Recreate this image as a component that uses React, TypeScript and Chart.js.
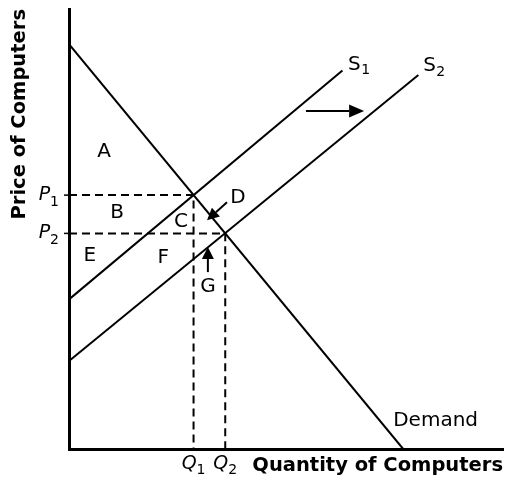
import React, { useEffect, useRef } from "react";
import { Chart, registerables } from "chart.js";

Chart.register(...registerables);

// Curves (data units: quantity 0-100, price 0-100)
const demandX = [0, 77];
const demandY = [92, 0];
const supply1X = [0, 63];
const supply1Y = [34, 86];
const supply2X = [0, 80.5];
const supply2Y = [20, 85];

// Equilibria: [before, after]
const quantities = [28.7, 36];
const prices = [57.7, 49];
const quantityLabels = ["Q", "Q"];
const priceLabels = ["P", "P"];
const subscripts = ["1", "2"];

// Area labels
const regionLabels = ["A", "B", "C", "D", "E", "F", "G"];
const regionX = [8.1, 11.1, 25.8, 38.9, 4.8, 21.7, 32.0];
const regionY = [67.5, 53.6, 51.6, 57.0, 43.9, 43.4, 36.8];

// Curve labels
const curveLabels = ["S", "S", "Demand"];
const curveSubs = ["1", "2", ""];
const curveLabelX = [64.3, 81.6, 74.7];
const curveLabelY = [87.4, 87.0, 6.4];

// Arrows: [fromX, fromY, toX, toY]
const shiftArrow = [54.6, 76.8, 68.0, 76.8];
const dArrow = [36.4, 56.1, 31.8, 52.0];
const gArrow = [32.0, 40.2, 32.0, 45.9];

const xTitle = "Quantity of Computers";
const yTitle = "Price of Computers";

const FONT = "DejaVu Sans";
const INK = "#000";

function pts(xs: number[], ys: number[]) {
  return xs.map((x, i) => ({ x, y: ys[i] }));
}

const annotationPlugin = {
  id: "econAnnotations",
  afterDatasetsDraw(chart: any) {
    const { ctx, scales, chartArea } = chart;
    const xs = scales.x;
    const ys = scales.y;
    const px = (v: number) => xs.getPixelForValue(v);
    const py = (v: number) => ys.getPixelForValue(v);
    ctx.save();
    ctx.fillStyle = INK;
    ctx.strokeStyle = INK;

    // region letters
    ctx.font = `20px "${FONT}"`;
    ctx.textAlign = "center";
    ctx.textBaseline = "middle";
    regionLabels.forEach((l, i) => {
      ctx.fillText(l, px(regionX[i]), py(regionY[i]));
    });

    // curve labels
    curveLabels.forEach((l, i) => {
      const x = px(curveLabelX[i]);
      const y = py(curveLabelY[i]);
      ctx.font = `20px "${FONT}"`;
      ctx.textAlign = "left";
      ctx.textBaseline = "middle";
      ctx.fillText(l, x, y);
      if (curveSubs[i]) {
        const w = ctx.measureText(l).width;
        ctx.font = `14px "${FONT}"`;
        ctx.fillText(curveSubs[i], x + w + 0.5, y + 6);
      }
    });

    // price labels (left of axis) and small ticks
    prices.forEach((p, i) => {
      const y = py(p);
      ctx.font = `14px "${FONT}"`;
      const sw = ctx.measureText(subscripts[i]).width;
      ctx.font = `italic 19px "${FONT}"`;
      const pw = ctx.measureText(priceLabels[i]).width;
      const endX = chartArea.left - 10;
      const startX = endX - sw - pw;
      ctx.textAlign = "left";
      ctx.textBaseline = "middle";
      ctx.fillText(priceLabels[i], startX, y);
      ctx.font = `14px "${FONT}"`;
      ctx.fillText(subscripts[i], startX + pw, y + 7);
      ctx.lineWidth = 1.5;
      ctx.beginPath();
      ctx.moveTo(chartArea.left - 5, y);
      ctx.lineTo(chartArea.left, y);
      ctx.stroke();
    });

    // quantity labels (below axis)
    quantities.forEach((q, i) => {
      const x = px(q);
      const y = chartArea.bottom + 15;
      ctx.font = `14px "${FONT}"`;
      const sw = ctx.measureText(subscripts[i]).width;
      ctx.font = `italic 19px "${FONT}"`;
      const qw = ctx.measureText(quantityLabels[i]).width;
      const startX = x - (qw + sw) / 2;
      ctx.textAlign = "left";
      ctx.textBaseline = "middle";
      ctx.fillText(quantityLabels[i], startX, y);
      ctx.font = `14px "${FONT}"`;
      ctx.fillText(subscripts[i], startX + qw, y + 6);
    });

    // arrows
    const drawArrow = (a: number[], head: number, half: number) => {
      const x1 = px(a[0]), y1 = py(a[1]), x2 = px(a[2]), y2 = py(a[3]);
      const ang = Math.atan2(y2 - y1, x2 - x1);
      const bx = x2 - head * Math.cos(ang);
      const by = y2 - head * Math.sin(ang);
      ctx.lineWidth = 2;
      ctx.beginPath();
      ctx.moveTo(x1, y1);
      ctx.lineTo(bx, by);
      ctx.stroke();
      ctx.beginPath();
      ctx.moveTo(x2, y2);
      ctx.lineTo(bx + half * Math.sin(ang), by - half * Math.cos(ang));
      ctx.lineTo(bx - half * Math.sin(ang), by + half * Math.cos(ang));
      ctx.closePath();
      ctx.fill();
    };
    drawArrow(shiftArrow, 15, 6.5);
    drawArrow(dArrow, 12, 6);
    drawArrow(gArrow, 12, 6);

    ctx.restore();
  },
};

export default function App() {
  const canvasRef = useRef<HTMLCanvasElement | null>(null);

  useEffect(() => {
    const canvas = canvasRef.current;
    if (!canvas) return;
    const solid = { pointRadius: 0, borderColor: INK, borderWidth: 2, showLine: true, fill: false };
    const dashed = { ...solid, borderDash: [8, 5] };
    const chart = new Chart(canvas, {
      type: "scatter",
      data: {
        datasets: [
          { label: "Demand", data: pts(demandX, demandY), ...solid },
          { label: "S1", data: pts(supply1X, supply1Y), ...solid },
          { label: "S2", data: pts(supply2X, supply2Y), ...solid },
          {
            label: "E1",
            data: pts([0, quantities[0], quantities[0]], [prices[0], prices[0], 0]),
            ...dashed,
          },
          {
            label: "E2",
            data: pts([0, quantities[1], quantities[1]], [prices[1], prices[1], 0]),
            ...dashed,
          },
        ],
      },
      options: {
        responsive: false,
        animation: false,
        devicePixelRatio: 1,
        layout: { padding: { top: 9, right: 2, left: 0, bottom: 0 } },
        plugins: { legend: { display: false }, tooltip: { enabled: false } },
        scales: {
          x: {
            type: "linear",
            min: 0,
            max: 100,
            grid: { display: false },
            ticks: { display: false },
            border: { display: true, width: 3, color: INK },
            title: {
              display: true,
              text: xTitle,
              align: "end",
              color: INK,
              font: { family: FONT, size: 19.5, weight: "bold" },
              padding: { top: 0, bottom: 8 },
            },
            afterFit: (s: any) => {
              s.height = 37;
            },
          },
          y: {
            type: "linear",
            min: 0,
            max: 100,
            grid: { display: false },
            ticks: { display: false },
            border: { display: true, width: 3, color: INK },
            title: {
              display: true,
              text: yTitle,
              align: "end",
              color: INK,
              font: { family: FONT, size: 19.5, weight: "bold" },
              padding: { top: 8, bottom: 0 },
            },
            afterFit: (s: any) => {
              s.width = 69;
            },
          },
        },
      } as any,
      plugins: [annotationPlugin],
    });
    return () => chart.destroy();
  }, []);

  return (
    <div style={{ position: "absolute", left: 0, top: 0, width: 505, height: 486, background: "#fff" }}>
      <canvas ref={canvasRef} width={505} height={486} style={{ display: "block" }} />
    </div>
  );
}
